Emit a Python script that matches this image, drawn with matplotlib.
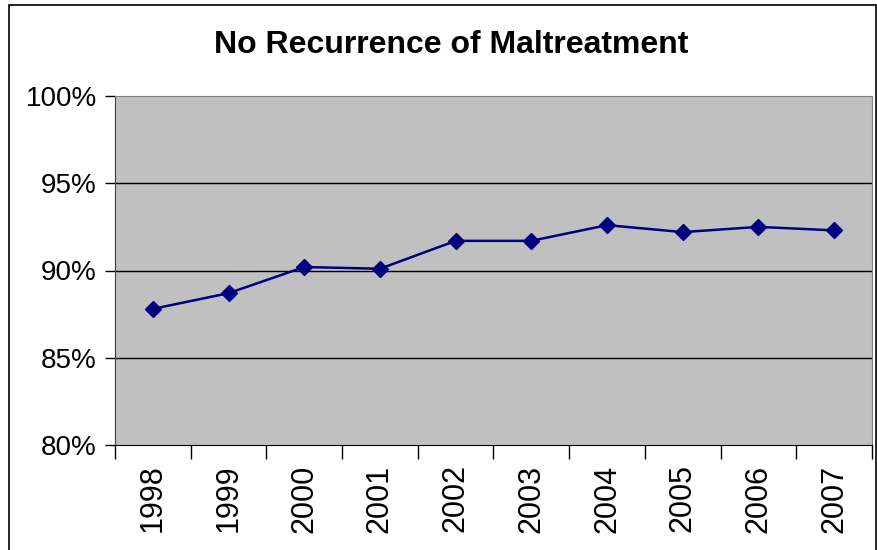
import matplotlib

matplotlib.use("Agg")
import matplotlib.pyplot as plt
from matplotlib.patches import Rectangle

years = ["1998", "1999", "2000", "2001", "2002", "2003", "2004", "2005", "2006", "2007"]
rates = [87.8, 88.7, 90.2, 90.1, 91.7, 91.7, 92.6, 92.2, 92.5, 92.3]
y_ticks = [80, 85, 90, 95, 100]
y_labels = ["80%", "85%", "90%", "95%", "100%"]

plt.rcParams["font.family"] = ["Liberation Sans", "DejaVu Sans"]

fig = plt.figure(figsize=(8.78, 5.5), dpi=100)
ax = fig.add_axes([115 / 878, 1 - 445 / 550, (872 - 115) / 878, (445 - 96) / 550])

# outer chart frame, bottom edge runs off the picture
fig.patches.append(Rectangle((9 / 878, -0.1), (876 - 9) / 878, 1.1 - 5 / 550,
                             transform=fig.transFigure, fill=False,
                             edgecolor="black", lw=1.2))

x = range(len(years))
ax.set_facecolor("#c0c0c0")
ax.plot(x, rates, color="#000080", lw=1.8, marker="D", markersize=8.5, zorder=3)

ax.set_xlim(-0.5, len(years) - 0.5)
ax.set_ylim(80, 100)
ax.set_yticks(y_ticks)
ax.set_yticklabels(y_labels, fontsize=20)
for t in y_ticks[1:-1]:
    ax.axhline(t, color="black", lw=1, zorder=1)

# category labels centred, ticks at the boundaries
ax.set_xticks([i - 0.5 for i in range(len(years) + 1)])
ax.set_xticklabels([])
ax.set_xticks(list(x), minor=True)
ax.set_xticklabels(years, minor=True, rotation=90, fontsize=22)
ax.tick_params(axis="x", which="major", length=10, width=1, color="black", direction="out")
ax.tick_params(axis="x", which="minor", length=0, pad=14)
ax.tick_params(axis="y", length=7, width=1, direction="out", pad=6)

for side in ("top", "right"):
    ax.spines[side].set_color("#808080")
ax.spines["left"].set_color("#404040")
ax.spines["bottom"].set_color("black")

fig.text(451 / 878, 1 - 45 / 550, "No Recurrence of Maltreatment",
         ha="center", va="center", fontsize=23, fontweight="bold")

fig.savefig("out.png", dpi=100)
